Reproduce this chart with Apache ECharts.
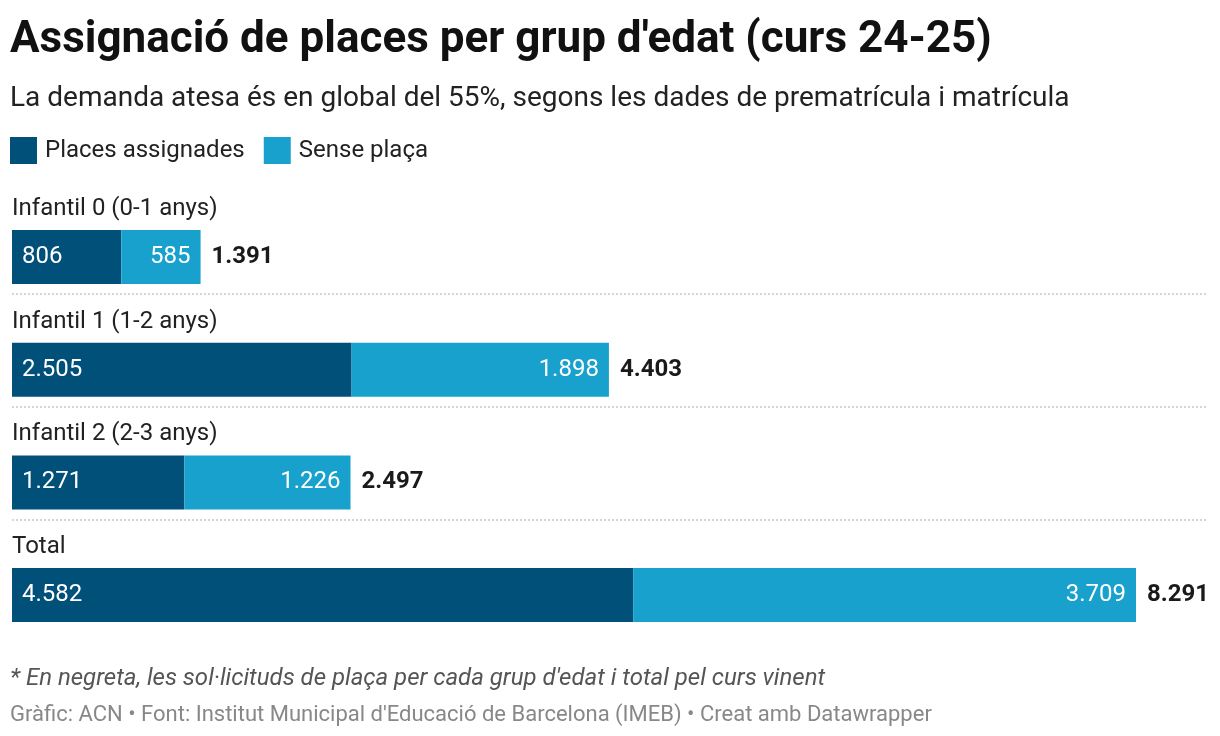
<!DOCTYPE html>
<html>
<head>
<meta charset="utf-8">
<script src="https://cdn.jsdelivr.net/npm/echarts@6/dist/echarts.min.js"></script>
<style>
html,body{margin:0;padding:0;background:#fff;}
#chart{width:1220px;height:736px;}
</style>
</head>
<body>
<div id="chart"></div>
<script>
const categories = ['Infantil 0 (0-1 anys)', 'Infantil 1 (1-2 anys)', 'Infantil 2 (2-3 anys)', 'Total'];
const assignades = [806, 2505, 1271, 4582];
const sensePlaca = [585, 1898, 1226, 3709];
const totals = [1391, 4403, 2497, 8291];

function fmt(v) {
  return String(v).replace(/\B(?=(\d{3})+(?!\d))/g, '.');
}

const FONT = 'Roboto';
const chart = echarts.init(document.getElementById('chart'));
chart.setOption({
  backgroundColor: '#ffffff',
  textStyle: { fontFamily: FONT },
  animation: false,
  title: [
    {
      text: "Assignació de places per grup d'edat (curs 24-25)",
      left: 10, top: 19, padding: 0,
      textStyle: { fontFamily: FONT, fontSize: 44, fontWeight: 'bold', color: '#111' }
    },
    {
      text: 'La demanda atesa és en global del 55%, segons les dades de prematrícula i matrícula',
      left: 10, top: 85, padding: 0,
      textStyle: { fontFamily: FONT, fontSize: 28, fontWeight: 'normal', color: '#222' }
    },
    {
      text: "* En negreta, les sol·licituds de plaça per cada grup d'edat i total pel curs vinent",
      left: 10, top: 667, padding: 0,
      textStyle: { fontFamily: FONT, fontSize: 24, fontStyle: 'italic', fontWeight: 'normal', color: '#555' }
    },
    {
      text: "Gràfic: ACN • Font: Institut Municipal d'Educació de Barcelona (IMEB) • Creat amb Datawrapper",
      left: 10, top: 704, padding: 0,
      textStyle: { fontFamily: FONT, fontSize: 22, fontWeight: 'normal', color: '#888' }
    }
  ],
  legend: {
    left: 10, top: 137, padding: 0,
    icon: 'rect',
    itemWidth: 27, itemHeight: 27, itemGap: 19,
    textStyle: { fontFamily: FONT, fontSize: 24, color: '#222', padding: [0, 0, 0, 3] },
    data: ['Places assignades', 'Sense plaça']
  },
  grid: [
    { left: 12, top: 200.7, width: 1124, height: 450.7, containLabel: false },
    { left: 12, top: 181.3, width: 1196, height: 450.7, containLabel: false }
  ],
  xAxis: [
    { type: 'value', gridIndex: 0, min: 0, max: Math.max(...totals), show: false },
    { type: 'value', gridIndex: 1, min: 0, max: 1, show: false }
  ],
  yAxis: [
    {
      type: 'category', gridIndex: 0, inverse: true, data: categories,
      axisLine: { show: false }, axisTick: { show: false }, splitLine: { show: false },
      z: 10,
      axisLabel: {
        show: true, interval: 0, inside: true, margin: 0, align: 'left',
        verticalAlign: 'bottom', lineHeight: 96,
        fontFamily: FONT, fontSize: 24, color: '#222'
      }
    },
    {
      type: 'category', gridIndex: 1, inverse: true, data: categories,
      axisLine: { show: false }, axisTick: { show: false }, axisLabel: { show: false },
      splitLine: {
        show: true, showMinLine: false, showMaxLine: false,
        lineStyle: { color: '#c8c8c8', width: 1.5, type: [2, 2] }
      }
    }
  ],
  series: [
    {
      name: 'Places assignades', type: 'bar', stack: 'a',
      xAxisIndex: 0, yAxisIndex: 0,
      data: assignades, barWidth: 54,
      itemStyle: { color: '#00507a' },
      label: {
        show: true, position: 'insideLeft', distance: 10,
        fontFamily: FONT, fontSize: 24, color: '#fff',
        formatter: p => fmt(p.value)
      }
    },
    {
      name: 'Sense plaça', type: 'bar', stack: 'a',
      xAxisIndex: 0, yAxisIndex: 0,
      data: sensePlaca, barWidth: 54,
      itemStyle: { color: '#18a1cd' },
      label: {
        show: true, position: 'insideRight', distance: 10,
        fontFamily: FONT, fontSize: 24, color: '#fff',
        formatter: p => fmt(p.value)
      }
    },
    {
      name: 'Total', type: 'bar', stack: 'a',
      xAxisIndex: 0, yAxisIndex: 0,
      data: totals.map(() => 0), barWidth: 54,
      itemStyle: { color: 'rgba(0,0,0,0)' },
      label: {
        show: true, position: 'right', distance: 11,
        fontFamily: FONT, fontSize: 24, fontWeight: 'bold', color: '#1a1a1a',
        formatter: p => fmt(totals[p.dataIndex])
      },
      tooltip: { show: false }
    }
  ]
});
</script>
</body>
</html>
